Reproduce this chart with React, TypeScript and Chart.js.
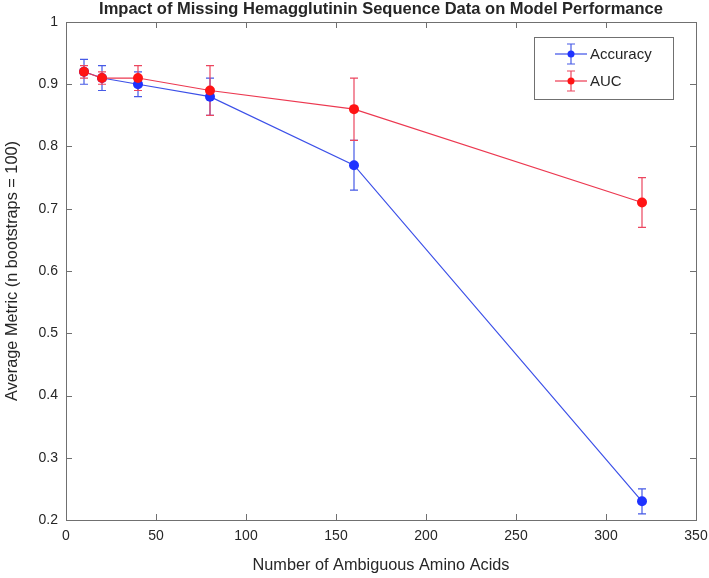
import React, { useEffect, useRef } from "react";
import { Chart, registerables } from "chart.js";

Chart.register(...registerables);

const titleText = "Impact of Missing Hemagglutinin Sequence Data on Model Performance";
const xAxisTitle = "Number of Ambiguous Amino Acids";
const yAxisTitle = "Average Metric (n bootstraps = 100)";

const ambiguousCounts = [10, 20, 40, 80, 160, 320];
const accuracyValues = [0.92, 0.91, 0.9, 0.88, 0.77, 0.23];
const accuracyErrors = [0.02, 0.02, 0.02, 0.03, 0.04, 0.02];
const aucValues = [0.92, 0.91, 0.91, 0.89, 0.86, 0.71];
const aucErrors = [0.01, 0.01, 0.02, 0.04, 0.05, 0.04];

const xTicks = [0, 50, 100, 150, 200, 250, 300, 350];
const yTicks = [0.2, 0.3, 0.4, 0.5, 0.6, 0.7, 0.8, 0.9, 1];

const seriesNames = ["Accuracy", "AUC"];

const BLUE_LINE = "rgb(60,80,232)";
const BLUE_MARK = "rgb(30,50,255)";
const BLUE_BAR = "rgb(70,90,230)";
const RED_LINE = "rgb(236,56,80)";
const RED_MARK = "rgb(255,20,20)";
const RED_BAR = "rgb(236,70,95)";
const AXIS = "#707070";
const TEXT = "#262626";
const FONT = "'Liberation Sans', Arial, Helvetica, sans-serif";

const errorSets = [
  { values: accuracyValues, errors: accuracyErrors, color: BLUE_BAR },
  { values: aucValues, errors: aucErrors, color: RED_BAR },
];

const decorPlugin = {
  id: "decor",
  beforeDatasetsDraw(chart: any) {
    const { ctx, scales } = chart;
    const xs = scales.x;
    const ys = scales.y;
    ctx.save();
    ctx.lineWidth = 1.2;
    errorSets.forEach((s) => {
      ctx.strokeStyle = s.color;
      ambiguousCounts.forEach((xv, i) => {
        const px = xs.getPixelForValue(xv);
        const top = ys.getPixelForValue(s.values[i] + s.errors[i]);
        const bot = ys.getPixelForValue(s.values[i] - s.errors[i]);
        ctx.beginPath();
        ctx.moveTo(px, top);
        ctx.lineTo(px, bot);
        ctx.moveTo(px - 4, top);
        ctx.lineTo(px + 4, top);
        ctx.moveTo(px - 4, bot);
        ctx.lineTo(px + 4, bot);
        ctx.stroke();
      });
    });
    ctx.restore();
  },
  afterDraw(chart: any) {
    const { ctx, chartArea, scales } = chart;
    const { left, right, top, bottom } = chartArea;
    const xs = scales.x;
    const ys = scales.y;
    ctx.save();
    ctx.strokeStyle = AXIS;
    ctx.lineWidth = 1;
    ctx.strokeRect(left + 0.5, top + 0.5, right - left, bottom - top);
    ctx.beginPath();
    xTicks.forEach((t) => {
      const px = Math.round(xs.getPixelForValue(t)) + 0.5;
      ctx.moveTo(px, bottom);
      ctx.lineTo(px, bottom - 6);
      ctx.moveTo(px, top);
      ctx.lineTo(px, top + 6);
    });
    yTicks.forEach((t) => {
      const py = Math.round(ys.getPixelForValue(t)) + 0.5;
      ctx.moveTo(left, py);
      ctx.lineTo(left + 6, py);
      ctx.moveTo(right, py);
      ctx.lineTo(right - 6, py);
    });
    ctx.stroke();

    ctx.fillStyle = TEXT;
    ctx.textAlign = "center";
    ctx.textBaseline = "middle";
    ctx.font = `bold 16.5px ${FONT}`;
    ctx.fillText(titleText, (left + right) / 2, 9);

    ctx.font = `16.3px ${FONT}`;
    ctx.fillText(xAxisTitle, (left + right) / 2, 566);

    ctx.save();
    ctx.translate(13, (top + bottom) / 2);
    ctx.rotate(-Math.PI / 2);
    ctx.fillText(yAxisTitle, 0, 0);
    ctx.restore();

    const lx = 534;
    const ly = 37;
    const lw = 139;
    const lh = 62;
    ctx.fillStyle = "#ffffff";
    ctx.fillRect(lx, ly, lw, lh);
    ctx.strokeStyle = AXIS;
    ctx.strokeRect(lx + 0.5, ly + 0.5, lw, lh);
    const rows = [
      { name: seriesNames[0], line: BLUE_LINE, bar: BLUE_BAR, mark: BLUE_MARK, y: ly + 17 },
      { name: seriesNames[1], line: RED_LINE, bar: RED_BAR, mark: RED_MARK, y: ly + 44 },
    ];
    rows.forEach((r) => {
      const cx = lx + 37;
      ctx.lineWidth = 1.2;
      ctx.strokeStyle = r.line;
      ctx.beginPath();
      ctx.moveTo(lx + 21, r.y);
      ctx.lineTo(lx + 53, r.y);
      ctx.stroke();
      ctx.strokeStyle = r.bar;
      ctx.beginPath();
      ctx.moveTo(cx, r.y - 10);
      ctx.lineTo(cx, r.y + 10);
      ctx.moveTo(cx - 4, r.y - 10);
      ctx.lineTo(cx + 4, r.y - 10);
      ctx.moveTo(cx - 4, r.y + 10);
      ctx.lineTo(cx + 4, r.y + 10);
      ctx.stroke();
      ctx.fillStyle = r.mark;
      ctx.beginPath();
      ctx.arc(cx, r.y, 3.5, 0, Math.PI * 2);
      ctx.fill();
      ctx.fillStyle = TEXT;
      ctx.textAlign = "left";
      ctx.font = `15px ${FONT}`;
      ctx.fillText(r.name, lx + 56, r.y + 1);
    });
    ctx.restore();
  },
};

export default function App() {
  const canvasRef = useRef<HTMLCanvasElement | null>(null);

  useEffect(() => {
    document.body.style.margin = "0";
    const canvas = canvasRef.current;
    if (!canvas) return;
    const toPoints = (vals: number[]) => ambiguousCounts.map((x, i) => ({ x, y: vals[i] }));
    const chart = new Chart(canvas, {
      type: "scatter",
      data: {
        datasets: [
          {
            label: seriesNames[0],
            data: toPoints(accuracyValues),
            showLine: true,
            borderColor: BLUE_LINE,
            borderWidth: 1.2,
            backgroundColor: BLUE_MARK,
            pointBackgroundColor: BLUE_MARK,
            pointBorderColor: BLUE_MARK,
            pointRadius: 5,
            pointBorderWidth: 0,
            order: 1,
          },
          {
            label: seriesNames[1],
            data: toPoints(aucValues),
            showLine: true,
            borderColor: RED_LINE,
            borderWidth: 1.2,
            backgroundColor: RED_MARK,
            pointBackgroundColor: RED_MARK,
            pointBorderColor: RED_MARK,
            pointRadius: 5,
            pointBorderWidth: 0,
            order: 0,
          },
        ],
      },
      options: {
        animation: false,
        responsive: true,
        maintainAspectRatio: false,
        layout: { padding: { top: 22, right: 13, left: 0, bottom: 0 } },
        plugins: {
          legend: { display: false },
          title: { display: false },
          tooltip: { enabled: false },
        },
        scales: {
          x: {
            type: "linear",
            min: 0,
            max: 350,
            afterBuildTicks: (axis: any) => {
              axis.ticks = xTicks.map((v) => ({ value: v }));
            },
            afterFit: (axis: any) => {
              axis.height = 58;
              axis.paddingLeft = 0;
              axis.paddingRight = 0;
            },
            grid: { display: false },
            border: { display: false },
            ticks: {
              padding: 0,
              maxRotation: 0,
              autoSkip: false,
              color: TEXT,
              font: { family: FONT, size: 14 },
              callback: (v: any) => String(v),
            },
          },
          y: {
            type: "linear",
            min: 0.2,
            max: 1,
            afterBuildTicks: (axis: any) => {
              axis.ticks = yTicks.map((v) => ({ value: v }));
            },
            afterFit: (axis: any) => {
              axis.width = 66;
              axis.paddingTop = 0;
              axis.paddingBottom = 0;
            },
            grid: { display: false },
            border: { display: false },
            ticks: {
              padding: 0,
              autoSkip: false,
              color: TEXT,
              font: { family: FONT, size: 14 },
              callback: (v: any) => String(Number(Number(v).toFixed(1))),
            },
          },
        },
      },
      plugins: [decorPlugin],
    });
    return () => chart.destroy();
  }, []);

  return (
    <div style={{ position: "absolute", left: 0, top: 0, width: 709, height: 578 }}>
      <canvas ref={canvasRef} />
    </div>
  );
}
